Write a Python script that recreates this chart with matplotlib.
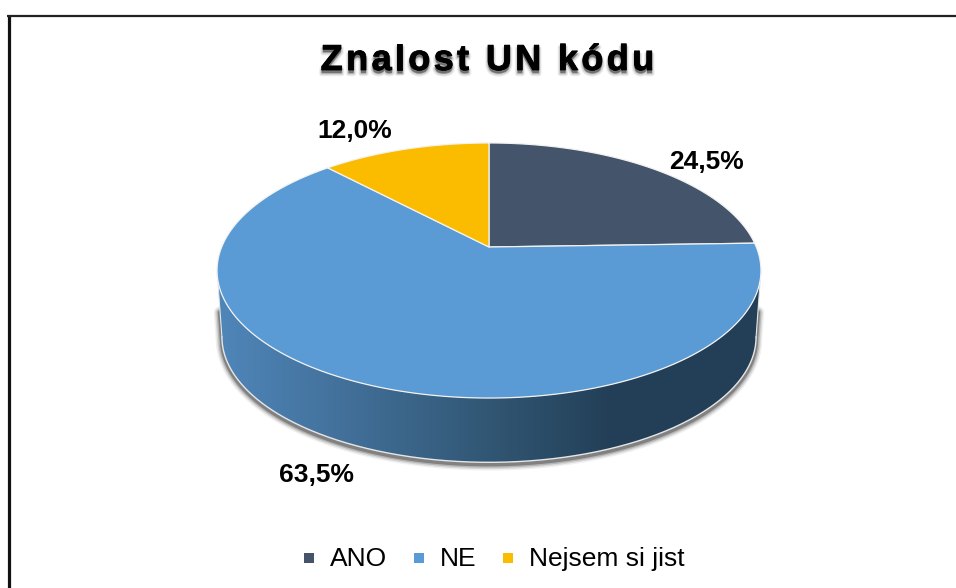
import numpy as np
import matplotlib
matplotlib.use("Agg")
from matplotlib import pyplot as plt
from matplotlib import patheffects as pe
from matplotlib.colors import LinearSegmentedColormap
from matplotlib.font_manager import FontProperties
from matplotlib.patches import Polygon

categories = ["ANO", "NE", "Nejsem si jist"]
values = [24.5, 63.5, 12.0]
labels = ["24,5%", "63,5%", "12,0%"]
colors = ["#44546A", "#5B9BD5", "#FBBC00"]
title = "Znalost UN kódu"

plt.rcParams["font.family"] = ["Liberation Sans", "DejaVu Sans"]

fig = plt.figure(figsize=(9.56, 5.88), dpi=100)
ax = fig.add_axes([0, 0, 1, 1])
ax.set_xlim(0, 956)
ax.set_ylim(588, 0)
ax.axis("off")

# frame of the chart, cut off on the right and at the bottom
ax.plot([8.8, 8.8], [588, 14.5], color="#111111", lw=2.3, solid_capstyle="butt")
ax.plot([7.2, 956], [15.5, 15.5], color="#222222", lw=1.6, solid_capstyle="butt")

# tilted disc: circle seen in perspective, apex is not the middle of the ellipse
CX, CY = 489, 247
SX, SY, K = 267.3, 123.2, 0.1843
DEPTH = 66


def proj(ang, scale=1.0, dy=0.0, r=1.0):
    x = r * np.cos(ang)
    y = r * np.sin(ang)
    w = 1 + K * y
    return CX + scale * SX * x / w, CY + dy + scale * SY * y * -1 / w


# angle where the ellipse is widest (left and right ends of the side wall)
t0 = np.arcsin(-K)
low = np.linspace(np.pi - t0, 2 * np.pi + t0, 300)
xt, yt = proj(low)
xb, yb = proj(low, scale=0.982, dy=DEPTH + 1)

# soft shadow below the wall, starts part way down the side edges
f = 0.6
xs_sh = np.r_[xt[0] + f * (xb[0] - xt[0]), xb, xt[-1] + f * (xb[-1] - xt[-1])]
ys_sh = np.r_[yt[0] + f * (yb[0] - yt[0]), yb, yt[-1] + f * (yb[-1] - yt[-1])]
for lw, a in zip([9, 7, 5, 3], [0.06, 0.10, 0.16, 0.28]):
    ax.plot(xs_sh, ys_sh + 2, color="black", alpha=a, lw=lw, solid_capstyle="round", zorder=1)

side_xy = np.r_[np.c_[xt, yt], np.c_[xb, yb][::-1]]
side = Polygon(side_xy, closed=True, fc="none", ec="none", zorder=2)
ax.add_patch(side)
cmap = LinearSegmentedColormap.from_list(
    "wall", [(0, "#4F86B9"), (0.2, "#44739E"), (0.5, "#315673"), (0.72, "#233F57"), (1, "#233F57")]
)
grad = ax.imshow(
    np.linspace(0, 1, 256).reshape(1, -1), cmap=cmap, aspect="auto",
    extent=(xb.min() - 4, xt.max() + 4, yb.max() + 2, yt.min()), zorder=2,
)
grad.set_clip_path(side)
ax.set_xlim(0, 956)
ax.set_ylim(588, 0)
ax.plot(xb, yb, color="#E6E6E6", lw=1.0, zorder=3)
ax.plot([xt[0], xb[0]], [yt[0], yb[0]], color="#E6E6E6", lw=0.8, zorder=3)
ax.plot([xt[-1], xb[-1]], [yt[-1], yb[-1]], color="#E6E6E6", lw=0.8, zorder=3)

# slices, clockwise from the top
start = np.pi / 2
for val, col in zip(values, colors):
    stop = start - val / sum(values) * 2 * np.pi
    ang = np.linspace(start, stop, 300)
    xs, ys = proj(ang)
    ax.fill(np.r_[CX, xs], np.r_[CY, ys], fc=col, ec="#F2F2F2", lw=0.9, joinstyle="round", zorder=4)
    start = stop

# value labels
label_pos = [(707, 162), (317, 475), (355, 131)]
for lab, (lx, ly) in zip(labels, label_pos):
    ax.text(lx, ly, lab, fontsize=19, fontweight="bold", ha="center", va="center", color="black", zorder=6)

# title with letter spacing and a soft shadow
fp = FontProperties(family="Liberation Sans", weight="bold", size=26)
rend = fig.canvas.get_renderer()


def adv(s):
    return rend.get_text_width_height_descent(s + "|", fp, False)[0] - rend.get_text_width_height_descent("|", fp, False)[0]


spacing = 3.35
total = adv(title) + spacing * (len(title) - 1)
x0 = 487.5 - total / 2
shadow = [
    pe.Stroke(linewidth=4.0, foreground="#666666", alpha=0.10, offset=(0, -2.5)),
    pe.Stroke(linewidth=2.5, foreground="#666666", alpha=0.18, offset=(0, -2.5)),
    pe.Stroke(linewidth=1.0, foreground="#666666", alpha=0.30, offset=(0, -2.0)),
    pe.Stroke(linewidth=0.6, foreground="black"),
    pe.Normal(),
]
for i, ch in enumerate(title):
    ax.text(x0 + adv(title[:i]) + i * spacing, 70, ch, fontproperties=fp, ha="left", va="baseline",
            color="black", path_effects=shadow, zorder=6)

# legend
legend_marker_x = [309, 419, 508]
legend_text_x = [330, 440, 529]
for name, col, mx, tx in zip(categories, colors, legend_marker_x, legend_text_x):
    ax.scatter([mx], [557.5], marker="s", s=50, color=col, zorder=6, linewidths=0)
    ax.text(tx, 559, name, fontsize=19, ha="left", va="center", color="black", zorder=6)

fig.savefig("out.png", dpi=100)
